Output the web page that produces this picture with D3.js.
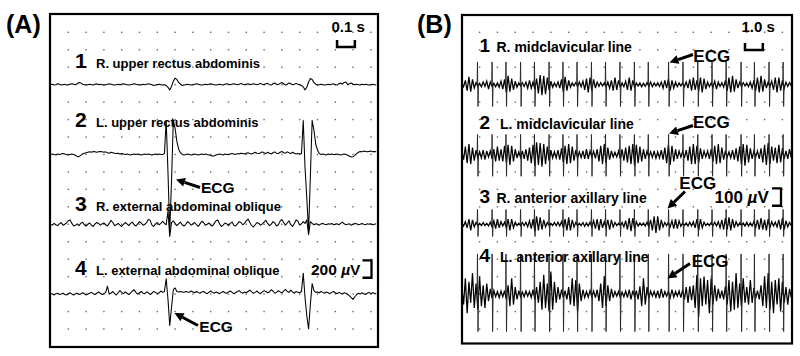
<!DOCTYPE html>
<html>
<head>
<meta charset="utf-8">
<script src="https://cdn.jsdelivr.net/npm/d3@7"></script>
<style>
  body { margin: 0; background: #fff; }
  svg text { font-family: "Liberation Sans", Arial, Helvetica, sans-serif; font-weight: bold; fill: #000; }
</style>
</head>
<body>
<div id="fig"></div>
<script>
// ---- panel A: surface EMG, 10 ms per sample, values in uV ----
var traceA1 = [
  0,5,-5,0,10,5,-5,0,5,-5, 0,5,10,5,0,10,25,20,5,0, -5,0,5,0,-5,5,10,0,5,0, -5,0,5,10,5,0,-5,0,5,0,
  5,10,5,0,-5,0,5,10,5,0, 0,-5,5,0,5,10,5,0,-10,-5, 0,5,0,-5,0,-10,-30,-60,-20,40, 75,60,25,5,-10,-5,0,5,0,-5,
  0,5,10,5,0,-5,0,5,0,5, 10,5,0,-5,0,5,0,-5,5,10, 5,0,5,10,5,0,5,15,5,0, 5,10,0,5,10,5,0,5,15,5,
  0,10,15,0,-5,10,20,5,0,15, 25,10,-5,5,20,10,0,5,15,5, 0,-10,-25,-60,-30,30,70,60,25,5, -5,0,5,0,-5,0,5,0,5,10,
  0,-5,10,20,5,25,30,0,10,20, 5,0,5,0,-5,5,0,5,0,-5, 0,5,0,-5
];
var traceA2 = [
  0,5,0,-5,5,0,5,10,5,0, -5,0,5,0,-10,-20,-25,-10,5,15, 20,25,30,25,35,30,25,30,35,30, 25,30,20,15,25,20,15,10,15,5,
  10,5,0,5,0,-5,0,5,0,5, 0,-5,0,5,0,5,0,-5,0,5, 0,5,0,0,10,390,-200,-880,-300,390, 300,150,60,20,0,-5,0,5,0,-5,
  0,5,0,-5,0,5,0,5,0,-5, -10,-20,-15,-5,0,5,0,-5,5,0, 0,5,10,5,0,10,5,15,10,5, 15,20,10,5,15,25,15,10,20,30,
  20,10,25,15,5,20,30,15,10,25, 35,20,15,30,20,10,25,15,5,10, 5,10,390,-150,-500,-880,-250,390,280,120, 50,10,0,5,0,-5,5,0,5,0,
  0,5,0,-5,0,5,0,-10,-20,-30, -25,-10,10,25,35,30,40,35,30,35, 40,30,35,30
];
var traceA3 = [
  0,-10,10,-5,-15,5,20,-10,0,15, 40,50,10,-20,-10,5,-15,10,25,-5, -20,0,15,-10,-25,5,20,10,-10,5, 15,-5,-20,10,45,20,-15,-5,10,-10,
  -25,0,20,5,-15,10,25,-5,-20,5, 30,15,-10,0,20,55,45,-10,-25,5, 20,-5,10,35,10,-5,150,-140,20,40, 10,-15,5,25,-5,-20,0,30,15,-10,
  5,20,-5,-25,5,35,20,-10,0,15, -10,-20,10,40,50,5,-25,-10,15,5, -15,10,25,-10,-20,5,30,20,-5,10, 40,60,20,-15,-30,-5,20,10,-10,5,
  25,45,10,-15,0,30,15,-20,-5,35, 55,20,-10,15,40,-5,-25,10,50,35, -10,5,30,10,50,-120,30,10,-5,5, 0,-10,5,10,0,-5,5,0,10,-5,
  0,5,-5,10,25,5,-5,0,5,-10, 0,10,5,-5,0,10,0,-5,5,0, 5,-5,0,5
];
var traceA4 = [
  0,5,-10,5,10,-5,0,10,-5,-10, 5,15,0,-10,5,10,-5,0,15,5, -10,0,10,20,5,-5,10,25,10,-5, 5,20,90,0,10,30,5,-10,15,40,
  20,5,25,10,-5,15,35,50,20,0, 15,30,10,5,25,15,-5,10,30,20, 5,15,35,20,30,175,-60,-360,-150,50, 70,30,25,30,25,20,30,25,20,35,
  25,15,30,20,10,25,30,15,5,20, 35,20,10,25,15,5,20,30,15,10, 25,35,20,5,15,30,40,20,10,25, 15,30,45,25,10,20,35,15,5,25,
  40,30,15,25,50,35,10,20,40,25, 15,35,55,30,20,45,25,10,30,20, 15,30,240,-40,-250,-400,-120,120,40,20, 25,15,30,20,10,25,15,5,20,30,
  15,5,20,10,0,15,10,-5,-20,-40, -60,-30,-5,10,0,15,5,-5,10,20, 5,15,10,0
];
var namesA = ["R. upper rectus abdominis", "L. upper rectus abdominis",
              "R. external abdominal oblique", "L. external abdominal oblique"];

// ---- panel B: 100 ms per sample, values in uV ----
var traceB1 = [
  10,-12,25,-35,45,-40,30,-20,12,-10, 8,-12,15,-10,20,-25,15,-10,8,-12, 10,-15,20,-25,30,-45,50,-40,35,-30, 20,-15,10,-8,12,-10,15,-20,25,-20,
  15,-25,35,-50,55,-60,50,-55,40,-30, 20,-15,10,-12,15,-20,30,-40,45,-35, 25,-15,10,-8,12,-10,15,-12,20,-30, 35,-45,40,-35,30,-20,15,-10,12,-8,
  10,-12,15,-20,25,-35,40,-30,25,-15, 10,-12,20,-30,40,-35,25,-15,10,-8, 10,-12,8,-10,12,-10,15,-12,10,-8, 12,-10,15,-20,25,-20,30,-35,25,-20,
  15,-12,10,-8,10,-12,15,-20,30,-35, 40,-30,25,-35,40,-45,35,-25,15,-12, 10,-15,20,-25,15,-10,12,-15,25,-35, 40,-45,50,-40,30,-20,15,-10,12,-8,
  10,-12,15,-20,25,-35,40,-45,50,-40, 30,-20,15,-12,20,-30,40,-45,40,-35, 25,-20,15,-10,12,-8
];
var traceB2 = [
  20,-30,45,-50,60,-55,40,-35,25,-20, 15,-20,25,-30,20,-15,20,-25,30,-40, 45,-35,30,-40,50,-45,55,-60,50,-40, 30,-20,15,-18,20,-25,30,-35,40,-50,
  55,-65,70,-60,65,-70,60,-55,45,-35, 25,-20,15,-20,25,-30,35,-45,50,-55, 60,-50,45,-35,25,-20,15,-18,20,-25, 30,-25,20,-15,18,-22,30,-40,50,-55,
  60,-50,40,-30,20,-15,12,-15,20,-25, 30,-35,40,-45,50,-55,60,-65,55,-50, 45,-40,30,-25,20,-15,15,-18,20,-22, 15,-20,25,-30,40,-50,55,-60,50,-40,
  30,-25,20,-15,18,-20,25,-35,45,-55, 60,-55,50,-45,35,-25,20,-15,20,-25, 30,-40,50,-55,60,-50,40,-30,20,-15, 15,-20,25,-30,35,-40,45,-55,60,-65,
  55,-45,35,-25,20,-15,20,-25,35,-45, 55,-60,65,-55,45,-35,40,-50,55,-45, 35,-25,20,-25,30,-20
];
var traceB3 = [
  8,-10,15,-20,30,-35,25,-15,10,-8, 6,-8,10,-8,6,-10,12,-15,20,-25, 30,-20,15,-10,12,-20,30,-35,30,-20, 12,-8,6,-8,10,-8,12,-15,20,-25,
  30,-40,45,-35,40,-30,25,-15,10,-8, 6,-8,10,-8,12,-10,15,-20,30,-35, 40,-35,25,-15,10,-8,6,-8,10,-12, 8,-10,12,-15,20,-25,30,-35,30,-20,
  15,-20,25,-30,25,-15,10,-8,6,-8, 10,-15,20,-30,35,-40,35,-25,15,-10, 8,-6,8,-10,12,-15,25,-35,45,-50, 45,-35,25,-15,10,-8,12,-15,20,-25,
  30,-25,20,-12,8,-6,8,-10,12,-10, 15,-20,30,-35,30,-20,12,-8,6,-8, 10,-8,12,-10,15,-20,25,-30,35,-30, 40,-35,30,-20,15,-10,8,-6,8,-10,
  12,-10,8,-10,15,-20,25,-30,35,-30, 25,-35,30,-20,15,-10,12,-15,25,-30, 35,-30,20,-15,10,-8
];
var traceB4 = [
  40,-60,90,-110,70,-50,120,-80,60,-90, 100,-70,50,-80,60,-40,30,-25,20,-15, 15,-20,18,-15,20,-30,50,-70,90,-60, 40,-30,20,-15,12,-15,18,-12,15,-20,
  25,-30,40,-50,70,-90,110,-80,60,-100, 130,-90,70,-50,40,-30,25,-20,20,-30, 40,-60,90,-70,80,-100,60,-40,25,-20, 15,-18,20,-15,18,-20,25,-40,60,-80,
  100,-70,50,-40,30,-20,15,-12,15,-18, 12,-15,18,-20,25,-30,20,-15,20,-30, 45,-70,90,-60,40,-25,18,-12,15,-18, 20,-25,30,-20,15,-12,15,-20,25,-18,
  15,-12,18,-20,25,-30,40,-50,45,-35, 50,-80,110,-130,90,-70,100,-60,80,-110, 90,-60,50,-40,30,-25,20,-30,45,-60, 80,-100,70,-90,120,-80,60,-70,90,-50,
  40,-60,80,-50,35,-25,20,-30,50,-70, 100,-80,120,-90,70,-110,80,-60,90,-100, 70,-50,40,-60,30,-20
];
// R-wave times (s) and per-trace spike size [up, down] in uV
var ecgTimesB = [0.88, 1.70, 2.48, 3.30, 4.08, 4.90, 5.68, 6.47, 7.28, 8.07, 8.88,
                 9.69, 10.47, 11.61, 12.42, 13.25, 14.05, 14.84, 15.68, 16.43, 17.25, 18.04];
var ecgSizeB = [[130, 125], [115, 125], [85, 70], [230, 215]];
var namesB = ["R. midclavicular line", "L. midclavicular line",
              "R. anterior axillary line", "L. anterior axillary line"];

var svg = d3.select("#fig").append("svg").attr("width", 800).attr("height", 356);

var cellY = 17.45;
var rowY = d3.scaleLinear().domain([0, 17]).range([32.3, 329]);
var baseRows = [3, 7, 11, 15];

var xA = d3.scaleLinear().domain([0, 1.84]).range([50.5, 378]);
var xB = d3.scaleLinear().domain([0, 18.5]).range([461.8, 791.3]);

function panel(id, box, xs, step) {
  var g = svg.append("g");
  svg.append("clipPath").attr("id", id)
    .append("rect").attr("x", box[0]).attr("y", box[1])
    .attr("width", box[2] - box[0]).attr("height", box[3] - box[1]);
  // dotted grid
  var dots = [];
  d3.range(1, 19).forEach(function(k) {
    d3.range(0, 18).forEach(function(j) { dots.push([xs(k * step), rowY(j)]); });
  });
  g.selectAll("rect.dot").data(dots).enter().append("rect")
    .attr("class", "dot")
    .attr("x", function(d) { return d[0] - 0.7; })
    .attr("y", function(d) { return d[1] - 0.7; })
    .attr("width", 1.4).attr("height", 1.4)
    .attr("fill", "#666");
  return g;
}

var gA = panel("clipA", [51, 15, 377, 346], xA, 0.1);
var gB = panel("clipB", [463, 16, 791, 342.5], xB, 1);

// panel A traces
[traceA1, traceA2, traceA3, traceA4].forEach(function(tr, i) {
  var base = rowY(baseRows[i]);
  var y = d3.scaleLinear().domain([0, 200]).range([base, base - cellY]);
  var line = d3.line().x(function(d, k) { return xA(k * 0.01); }).y(function(d) { return y(d); });
  gA.append("path").datum(tr).attr("d", line)
    .attr("clip-path", "url(#clipA)")
    .attr("fill", "none").attr("stroke", "#000").attr("stroke-width", 1.05)
    .attr("stroke-linejoin", "round");
});

// panel B traces
[traceB1, traceB2, traceB3, traceB4].forEach(function(tr, i) {
  var base = rowY(baseRows[i]);
  var y = d3.scaleLinear().domain([0, 100]).range([base, base - cellY]);
  var line = d3.line().x(function(d, k) { return xB(k * 0.1); }).y(function(d) { return y(d); });
  gB.append("path").datum(tr).attr("d", line)
    .attr("clip-path", "url(#clipB)")
    .attr("fill", "none").attr("stroke", "#000").attr("stroke-width", 1.25);
  var sz = ecgSizeB[i];
  var ecgLine = d3.line().x(function(d) { return xB(d[0]); }).y(function(d) { return y(d[1]); });
  gB.selectAll(null).data(ecgTimesB).enter().append("path")
    .attr("d", function(t) { return ecgLine([[t - 0.02, 0], [t, sz[0]], [t + 0.03, -sz[1]], [t + 0.06, 0]]); })
    .attr("clip-path", "url(#clipB)")
    .attr("fill", "none").attr("stroke", "#222").attr("stroke-width", 0.9);
});

// labels
var labA = [68, 127, 211, 275];
namesA.forEach(function(n, i) {
  svg.append("text").attr("x", 75).attr("y", labA[i]).style("font-size", "21px").text(i + 1);
  svg.append("text").attr("x", 96).attr("y", labA[i]).style("font-size", "13px").text(n);
});
var labB = [51.7, 129, 203.3, 261.7];
var nameXB = [496.5, 500, 496.5, 500];
namesB.forEach(function(n, i) {
  svg.append("text").attr("x", 479.5).attr("y", labB[i]).style("font-size", "19px").text(i + 1);
  svg.append("text").attr("x", nameXB[i]).attr("y", labB[i]).style("font-size", "14px").text(n);
});

svg.append("text").attr("x", 6).attr("y", 33).style("font-size", "25px").text("(A)");
svg.append("text").attr("x", 417).attr("y", 33).style("font-size", "25px").text("(B)");

// ECG arrows: [tailX, tailY, tipX, tipY, textX, textY, fontSize]
var arrows = [
  [200, 187.5, 176, 179.5, 201, 193.3, 15.5],
  [198, 325.5, 174.5, 313, 199.3, 331.7, 15.5],
  [693, 54.5, 669.5, 62.5, 693.3, 61.7, 17],
  [693, 125.5, 669, 133.5, 693, 128.3, 17],
  [685, 191.5, 667.5, 208.5, 679.3, 189.3, 17],
  [690, 263.5, 667.5, 278.5, 691.7, 266.7, 17]
];
arrows.forEach(function(a) {
  var ang = Math.atan2(a[3] - a[1], a[2] - a[0]), L = 9, W = 4.5;
  var bx = a[2] - L * Math.cos(ang), by = a[3] - L * Math.sin(ang);
  svg.append("line").attr("x1", a[0]).attr("y1", a[1]).attr("x2", bx).attr("y2", by)
    .attr("stroke", "#000").attr("stroke-width", 3);
  svg.append("polygon")
    .attr("points", [[a[2], a[3]],
      [bx + W * Math.sin(ang), by - W * Math.cos(ang)],
      [bx - W * Math.sin(ang), by + W * Math.cos(ang)]].join(" "))
    .attr("fill", "#000");
  svg.append("text").attr("x", a[4]).attr("y", a[5]).style("font-size", a[6] + "px").text("ECG");
});

// time scale bars
svg.append("text").attr("x", 331.5).attr("y", 31.7).style("font-size", "15px").text("0.1 s");
svg.append("path").attr("d", "M" + xA(1.61) + ",40V47H" + xA(1.71) + "V40")
  .attr("fill", "none").attr("stroke", "#000").attr("stroke-width", 2.5);
svg.append("text").attr("x", 741.5).attr("y", 31.7).style("font-size", "15px").text("1.0 s");
svg.append("path").attr("d", "M" + xB(15.9) + ",43V50H" + xB(16.9) + "V43")
  .attr("fill", "none").attr("stroke", "#000").attr("stroke-width", 2.5);

// amplitude scale bars
function ampBar(x, label, tx, ty, fs, yMid, uv, unit) {
  var t = svg.append("text").attr("x", tx).attr("y", ty).style("font-size", fs + "px");
  t.append("tspan").text(label + " ");
  t.append("tspan").style("font-style", "italic").text("\u00b5");
  t.append("tspan").text("V");
  var y = d3.scaleLinear().domain([0, unit]).range([0, cellY]);
  var h = y(uv);
  svg.append("path").attr("d", "M" + (x - 9) + "," + (yMid - h / 2) + "H" + x + "V" + (yMid + h / 2) + "H" + (x - 9))
    .attr("fill", "none").attr("stroke", "#000").attr("stroke-width", 2.3);
}
ampBar(371.5, "200", 311, 275, 15.5, 269, 200, 200);
ampBar(781, "100", 714.5, 203.3, 17, 197, 100, 100);

// frames
svg.append("rect").attr("x", 50).attr("y", 14).attr("width", 328).attr("height", 333)
  .attr("fill", "none").attr("stroke", "#000").attr("stroke-width", 2.2);
svg.append("rect").attr("x", 462).attr("y", 15).attr("width", 330).attr("height", 328.5)
  .attr("fill", "none").attr("stroke", "#000").attr("stroke-width", 2.2);
</script>
</body>
</html>
